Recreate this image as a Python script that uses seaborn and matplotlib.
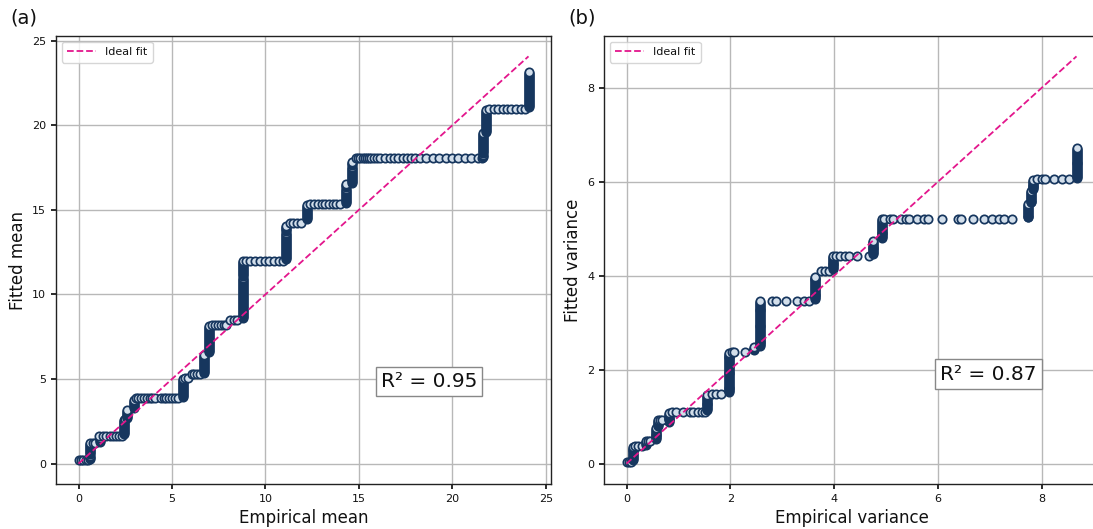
import matplotlib
matplotlib.use("Agg")
import matplotlib.pyplot as plt
import numpy as np
import pandas as pd
import seaborn as sns

# ---------------------------------------------------------------- data
# (a) mean: vertical clusters (one empirical value, many fitted values)
mean_col_x = [0.6, 1.15, 2.42, 2.6, 2.95, 5.6, 6.72, 7.0, 8.8, 11.1, 12.2,
              14.3, 14.65, 21.65, 21.8, 24.07]
mean_col_y = [
    [0.3, 0.36, 0.42, 0.48, 0.54, 0.6, 0.66, 0.72, 0.78, 0.84, 0.9, 0.96,
     1.02, 1.08, 1.14],
    [1.3, 1.36, 1.42, 1.48, 1.54],
    [1.75, 1.81, 1.87, 1.93, 1.99, 2.05, 2.11, 2.17, 2.23, 2.29, 2.35, 2.41,
     2.47, 2.53, 2.59],
    [2.7, 2.76, 2.82, 2.88, 2.94, 3.0, 3.06, 3.12, 3.18],
    [3.3, 3.36, 3.42, 3.48, 3.54, 3.6, 3.66, 3.72, 3.78],
    [3.95, 4.01, 4.07, 4.13, 4.19, 4.25, 4.31, 4.37, 4.43, 4.49, 4.55, 4.61,
     4.67, 4.73, 4.79, 4.85, 4.91, 4.97, 5.0],
    [5.35, 5.41, 5.47, 5.53, 5.59, 5.65, 5.71, 5.77, 5.83, 5.89, 5.95, 6.01,
     6.07, 6.13, 6.19, 6.25, 6.31, 6.37, 6.45],
    [6.6, 6.66, 6.72, 6.78, 6.84, 6.9, 6.96, 7.02, 7.08, 7.14, 7.2, 7.26,
     7.32, 7.38, 7.44, 7.5, 7.56, 7.62, 7.68, 7.74, 7.8, 7.86, 7.92, 7.98,
     8.04, 8.1, 8.16],
    [8.6, 8.66, 8.72, 8.78, 8.84, 8.9, 8.96, 9.02, 9.08, 9.14, 9.2, 9.26,
     9.32, 9.38, 9.44, 9.5, 9.56, 9.62, 9.68, 9.74, 9.8, 9.86, 9.92, 9.98,
     10.04, 10.1, 10.16, 10.22, 10.28, 10.34, 10.4, 10.46, 10.52, 10.58,
     10.64, 10.7, 10.76, 10.82, 10.88, 10.94, 11.0, 11.06, 11.12, 11.18,
     11.24, 11.3, 11.36, 11.42, 11.48, 11.54, 11.6, 11.66, 11.72, 11.78,
     11.84, 11.9, 11.96],
    [12.1, 12.16, 12.22, 12.28, 12.34, 12.4, 12.46, 12.52, 12.58, 12.64,
     12.7, 12.76, 12.82, 12.88, 12.94, 13.0, 13.06, 13.12, 13.18, 13.24,
     13.3, 13.36, 13.42, 13.48, 13.54, 13.6, 13.66, 13.72, 13.78, 13.84,
     13.9, 13.96, 14.02],
    [14.45, 14.51, 14.57, 14.63, 14.69, 14.75, 14.81, 14.87, 14.93, 14.99,
     15.05, 15.11, 15.17, 15.23, 15.29],
    [15.42, 15.48, 15.54, 15.6, 15.66, 15.72, 15.78, 15.84, 15.9, 15.96,
     16.02, 16.08, 16.14, 16.2, 16.26, 16.32, 16.38, 16.44, 16.5],
    [16.6, 16.66, 16.72, 16.78, 16.84, 16.9, 16.96, 17.02, 17.08, 17.14,
     17.2, 17.26, 17.32, 17.38, 17.44, 17.5, 17.56, 17.62, 17.68, 17.74,
     17.8],
    [18.15, 18.21, 18.27, 18.33, 18.39, 18.45, 18.51, 18.57, 18.63, 18.69,
     18.75, 18.81, 18.87, 18.93, 18.99, 19.05, 19.11, 19.17, 19.23, 19.29,
     19.35, 19.41, 19.47, 19.53],
    [19.59, 19.65, 19.71, 19.77, 19.83, 19.89, 19.95, 20.01, 20.07, 20.13,
     20.19, 20.25, 20.31, 20.37, 20.43, 20.49, 20.55, 20.61, 20.67, 20.73,
     20.79, 20.85, 20.91],
    [21.05, 21.11, 21.17, 21.23, 21.29, 21.35, 21.41, 21.47, 21.53, 21.59,
     21.65, 21.71, 21.77, 21.83, 21.89, 21.95, 22.01, 22.07, 22.13, 22.19,
     22.25, 22.31, 22.37, 22.43, 22.49, 22.55, 22.61, 22.67, 22.73, 22.79,
     22.85, 22.91, 22.97, 23.03, 23.09, 23.15],
]
# (a) mean: flat runs (one fitted value, many empirical values)
mean_row_y = [0.2, 1.22, 1.65, 2.65, 3.85, 5.05, 5.27, 8.2, 8.5, 12.0,
              14.25, 15.32, 18.05, 20.95]
mean_row_x = [
    [0.0, 0.12, 0.25, 0.4, 0.52],
    [0.62, 0.75, 0.9],
    [1.12, 1.3, 1.48, 1.66, 1.83, 2.01, 2.19, 2.35],
    [2.5],
    [3.05, 3.2, 3.35, 3.5, 3.65, 3.8, 3.95, 4.1, 4.4, 4.55, 4.7, 4.85, 5.0,
     5.15, 5.3],
    [5.7, 5.85],
    [6.05, 6.2, 6.35, 6.5],
    [7.12, 7.28, 7.44, 7.6, 7.76, 7.9],
    [8.08, 8.3, 8.5],
    [8.95, 9.2, 9.45, 9.7, 9.95, 10.2, 10.45, 10.7, 10.95],
    [11.3, 11.5, 11.7, 11.9],
    [12.4, 12.6, 12.8, 13.0, 13.2, 13.4, 13.6, 13.8, 14.0],
    [14.85, 14.95, 15.05, 15.2, 15.3, 15.45, 15.55, 15.65, 15.8, 15.95,
     16.15, 16.4, 16.65, 16.9, 17.1, 17.35, 17.55, 17.8, 18.0, 18.25, 18.6,
     18.95, 19.3, 19.65, 20.0, 20.3, 20.65, 21.0, 21.35, 21.6],
    [21.95, 22.2, 22.45, 22.7, 22.9, 23.15, 23.4, 23.65, 23.9],
]

# (b) variance: vertical clusters
var_col_x = [0.12, 0.37, 0.57, 0.61, 0.82, 1.56, 1.98, 2.45, 2.58, 3.64,
             3.98, 4.75, 4.92, 7.74, 7.79, 7.84, 8.67]
var_col_y = [
    [0.08, 0.1, 0.12, 0.14, 0.16, 0.18, 0.2, 0.22, 0.24, 0.26, 0.28, 0.3,
     0.32, 0.34, 0.36],
    [0.4, 0.42, 0.44, 0.46, 0.48],
    [0.52, 0.54, 0.56, 0.58, 0.6, 0.62, 0.64, 0.66, 0.68, 0.7, 0.72, 0.74,
     0.76],
    [0.8, 0.82, 0.84, 0.86, 0.88, 0.9, 0.92],
    [0.88, 0.9, 0.92, 0.94, 0.96, 0.98, 1.0, 1.02, 1.04, 1.06, 1.08],
    [1.14, 1.16, 1.18, 1.2, 1.22, 1.24, 1.26, 1.28, 1.3, 1.32, 1.34, 1.36,
     1.38, 1.4, 1.42, 1.44, 1.46],
    [1.52, 1.54, 1.56, 1.58, 1.6, 1.62, 1.64, 1.66, 1.68, 1.7, 1.72, 1.74,
     1.76, 1.78, 1.8, 1.82, 1.84, 1.86, 1.88, 1.9, 1.92, 1.94, 1.96, 1.98,
     2.0, 2.02, 2.04, 2.06, 2.08, 2.1, 2.12, 2.14, 2.16, 2.18, 2.2, 2.22,
     2.24, 2.26, 2.28, 2.3, 2.32, 2.34, 2.36],
    [2.41, 2.43, 2.45, 2.47, 2.49],
    [2.5, 2.52, 2.54, 2.56, 2.58, 2.6, 2.62, 2.64, 2.66, 2.68, 2.7, 2.72,
     2.74, 2.76, 2.78, 2.8, 2.82, 2.84, 2.86, 2.88, 2.9, 2.92, 2.94, 2.96,
     2.98, 3.0, 3.02, 3.04, 3.06, 3.08, 3.1, 3.12, 3.14, 3.16, 3.18, 3.2,
     3.22, 3.24, 3.26, 3.28, 3.3, 3.32, 3.34, 3.36, 3.38, 3.4, 3.42, 3.44,
     3.46],
    [3.5, 3.52, 3.54, 3.56, 3.58, 3.6, 3.62, 3.64, 3.66, 3.68, 3.7, 3.72,
     3.74, 3.76, 3.78, 3.8, 3.82, 3.84, 3.86, 3.88, 3.9, 3.92, 3.94, 3.96,
     3.98],
    [4.14, 4.16, 4.18, 4.2, 4.22, 4.24, 4.26, 4.28, 4.3, 4.32, 4.34, 4.36,
     4.38, 4.4, 4.42],
    [4.46, 4.48, 4.5, 4.52, 4.54, 4.56, 4.58, 4.6, 4.62, 4.64, 4.66, 4.68,
     4.7, 4.72, 4.74],
    [4.8, 4.82, 4.84, 4.86, 4.88, 4.9, 4.92, 4.94, 4.96, 4.98, 5.0, 5.02,
     5.04, 5.06, 5.08, 5.1, 5.12, 5.14, 5.16, 5.18, 5.2],
    [5.24, 5.26, 5.28, 5.3, 5.32, 5.34, 5.36, 5.38, 5.4, 5.42, 5.44, 5.46,
     5.48, 5.5, 5.52],
    [5.56, 5.58, 5.6, 5.62, 5.64, 5.66, 5.68, 5.7, 5.72, 5.74, 5.76, 5.78,
     5.8],
    [5.84, 5.86, 5.88, 5.9, 5.92, 5.94, 5.96, 5.98, 6.0, 6.02, 6.04],
    [6.09, 6.11, 6.13, 6.15, 6.17, 6.19, 6.21, 6.23, 6.25, 6.27, 6.29, 6.31,
     6.33, 6.35, 6.37, 6.39, 6.41, 6.43, 6.45, 6.47, 6.49, 6.51, 6.53, 6.55,
     6.57, 6.59, 6.61, 6.63, 6.65, 6.67, 6.69, 6.72],
]
# (b) variance: flat runs
var_row_y = [0.04, 0.37, 0.49, 0.92, 1.09, 1.48, 2.38, 3.46, 4.11, 4.43,
             5.21, 6.05]
var_row_x = [
    [0.0, 0.04, 0.08],
    [0.17, 0.23, 0.29],
    [0.41, 0.45],
    [0.65, 0.69],
    [0.88, 0.95, 1.09, 1.23, 1.29, 1.37, 1.45, 1.52],
    [1.64, 1.73, 1.82],
    [2.03, 2.08, 2.28],
    [2.8, 2.88, 3.08, 3.28, 3.42, 3.52],
    [3.74, 3.82, 3.9],
    [4.03, 4.12, 4.21, 4.28, 4.44, 4.68],
    [4.97, 5.07, 5.13, 5.29, 5.39, 5.45, 5.59, 5.74, 5.81, 6.08, 6.38, 6.44,
     6.67, 6.89, 7.05, 7.18, 7.27, 7.43],
    [7.9, 8.01, 8.07, 8.23, 8.39, 8.53],
]

r2_values = [0.95, 0.87]
panel_tags = ["(a)", "(b)"]
x_labels = ["Empirical mean", "Empirical variance"]
y_labels = ["Fitted mean", "Fitted variance"]


def points(col_x, col_y, row_y, row_x):
    """Flatten clusters and runs into one table, drawn bottom to top."""
    xs, ys = [], []
    for x, yl in zip(col_x, col_y):
        xs += [x] * len(yl)
        ys += yl
    for y, xl in zip(row_y, row_x):
        xs += xl
        ys += [y] * len(xl)
    df = pd.DataFrame({"empirical": xs, "fitted": ys})
    return df.sort_values(["fitted", "empirical"]).reset_index(drop=True)


frames = [points(mean_col_x, mean_col_y, mean_row_y, mean_row_x),
          points(var_col_x, var_col_y, var_row_y, var_row_x)]

# ---------------------------------------------------------------- style
sns.set_theme(style="ticks", rc={
    "axes.grid": True,
    "grid.color": "#b8b8b8",
    "grid.linewidth": 1.0,
    "axes.edgecolor": "#222222",
    "axes.linewidth": 1.0,
    "xtick.major.size": 3.5,
    "ytick.major.size": 3.5,
    "xtick.labelsize": 8,
    "ytick.labelsize": 8,
    "axes.labelsize": 12,
    "legend.fontsize": 8,
    "text.color": "#111111",
    "axes.labelcolor": "#111111",
    "xtick.color": "#111111",
    "ytick.color": "#111111",
})
plt.rcParams["font.family"] = ["DejaVu Sans"]

W, H = 1093, 529
fig = plt.figure(figsize=(W / 100, H / 100), dpi=100)
axes = [fig.add_axes([56 / W, 45 / H, 495 / W, 448 / H]),
        fig.add_axes([604 / W, 45 / H, 495 / W, 448 / H])]

face = "#d3dfeb"
edge = "#16365e"
ideal_color = "#e3168c"
r2_pos = [(0.7535, 0.228), (0.777, 0.2455)]
tag_x = [10, 568]

for i, (ax, df) in enumerate(zip(axes, frames)):
    sns.scatterplot(data=df, x="empirical", y="fitted", ax=ax, s=36,
                    color=face, edgecolor=edge, linewidth=1.25, zorder=3,
                    legend=False)
    top = df["empirical"].max()
    sns.lineplot(x=[0, top], y=[0, top], ax=ax, color=ideal_color,
                 linestyle="--", linewidth=1.3, label="Ideal fit", zorder=4)
    ax.set_xlabel(x_labels[i])
    ax.set_ylabel(y_labels[i])
    ax.set_axisbelow(True)
    ax.legend(loc="upper left", frameon=True, fancybox=True, framealpha=0.8,
              edgecolor="#cccccc", handlelength=2.6, borderpad=0.5)
    ax.text(*r2_pos[i], f"R\u00b2 = {r2_values[i]:.2f}", transform=ax.transAxes,
            ha="center", va="center", fontsize=14.5, zorder=5,
            bbox=dict(boxstyle="square,pad=0.25", facecolor="white",
                      edgecolor="#888888", linewidth=1.0))
    for s in ax.spines.values():
        s.set_visible(True)
    fig.text(tag_x[i] / W, 1 - 18 / H, panel_tags[i], ha="left", va="center",
             fontsize=14)

fig.savefig("out.png", dpi=100)
